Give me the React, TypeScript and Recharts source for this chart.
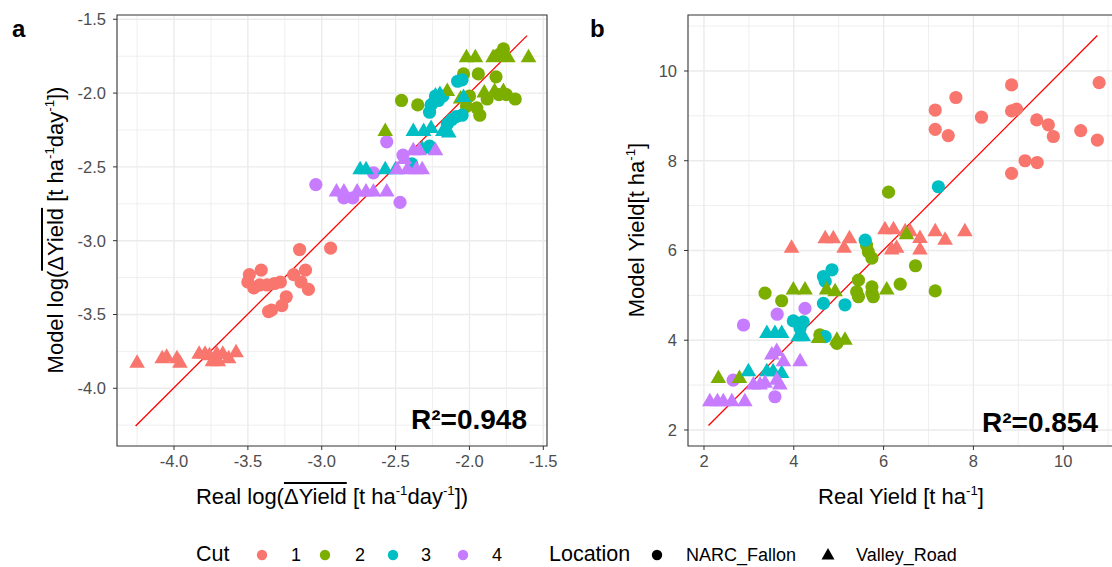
import React from "react";
import { CartesianGrid, Scatter, ScatterChart, XAxis, YAxis, ReferenceArea, ReferenceLine } from "recharts";

type Pt = [number, number];

const CUT_COLORS = ["#F8766D", "#7CAE00", "#00BFC4", "#C77CFF"];
const CUT_LABELS = ["1", "2", "3", "4"];
const FONT = "'Liberation Sans', Arial, sans-serif";

// ---- panel a: log(mean delta yield) ----
const aTicks = [-4.0, -3.5, -3.0, -2.5, -2.0, -1.5];
const aMinor = [-4.25, -3.75, -3.25, -2.75, -2.25, -1.75];

const aCut1Narc: Pt[] = [
  [-3.15, -3.06], [-2.94, -3.05], [-3.41, -3.2], [-3.49, -3.23], [-3.5, -3.28], [-3.46, -3.32],
  [-3.42, -3.3], [-3.37, -3.3], [-3.32, -3.29], [-3.28, -3.28], [-3.19, -3.23], [-3.11, -3.2],
  [-3.14, -3.28], [-3.09, -3.33], [-3.24, -3.38], [-3.27, -3.44], [-3.34, -3.47], [-3.36, -3.48],
];
const aCut1Valley: Pt[] = [
  [-4.25, -3.83], [-4.08, -3.8], [-4.05, -3.79], [-3.98, -3.8], [-3.96, -3.83], [-3.83, -3.77],
  [-3.79, -3.77], [-3.76, -3.78], [-3.74, -3.82], [-3.71, -3.77], [-3.7, -3.82], [-3.67, -3.77],
  [-3.58, -3.76], [-3.63, -3.8],
];
const aCut2Narc: Pt[] = [
  [-1.77, -1.7], [-1.8, -1.74], [-2.04, -1.87], [-1.94, -1.87], [-1.82, -1.89], [-2.46, -2.05],
  [-2.35, -2.08], [-2.0, -2.02], [-1.88, -2.04], [-1.8, -2.01], [-1.75, -2.01], [-1.69, -2.04],
  [-2.02, -2.09], [-1.93, -2.15], [-1.95, -2.1],
];
const aCut2Valley: Pt[] = [
  [-2.02, -1.76], [-1.96, -1.76], [-1.84, -1.76], [-1.79, -1.74], [-1.74, -1.76], [-1.6, -1.76],
  [-2.57, -2.26], [-2.15, -1.99], [-1.9, -2.0], [-1.83, -1.99], [-1.77, -1.99], [-2.06, -2.04],
];
const aCut3Narc: Pt[] = [
  [-2.05, -1.91], [-2.08, -1.92], [-2.26, -2.08], [-2.27, -2.13], [-2.21, -2.05], [-2.18, -2.02],
  [-2.09, -2.16], [-2.05, -2.15], [-2.12, -2.18], [-2.15, -2.21], [-2.27, -2.36], [-2.39, -2.48],
  [-2.23, -2.02],
];
const aCut3Valley: Pt[] = [
  [-2.74, -2.52], [-2.7, -2.52], [-2.57, -2.52], [-2.5, -2.52], [-2.4, -2.51], [-2.38, -2.26],
  [-2.31, -2.26], [-2.26, -2.24], [-2.18, -2.26], [-2.14, -2.27], [-2.23, -2.02], [-2.2, -2.01],
  [-2.04, -2.03], [-2.32, -2.38],
];
const aCut4Narc: Pt[] = [
  [-2.56, -2.33], [-3.04, -2.62], [-2.47, -2.74], [-2.65, -2.54], [-2.45, -2.42], [-2.85, -2.71],
  [-2.79, -2.71],
];
const aCut4Valley: Pt[] = [
  [-2.9, -2.67], [-2.85, -2.67], [-2.76, -2.67], [-2.7, -2.67], [-2.65, -2.67], [-2.56, -2.67],
  [-2.49, -2.52], [-2.42, -2.52], [-2.36, -2.52], [-2.32, -2.52], [-2.38, -2.39], [-2.34, -2.39],
  [-2.23, -2.39], [-2.44, -2.45],
];
const aFit: Pt[] = [[-4.26, -4.255], [-1.61, -1.611]];

// ---- panel b: yield ----
const bTicks = [2, 4, 6, 8, 10];
const bMinor = [3, 5, 7, 9, 11];

const bCut1Narc: Pt[] = [
  [8.85, 9.69], [10.8, 9.74], [7.61, 9.41], [7.15, 9.13], [7.15, 8.7], [7.44, 8.56], [8.18, 8.97],
  [8.85, 9.11], [8.96, 9.15], [9.41, 8.91], [9.67, 8.8], [9.78, 8.54], [10.39, 8.67], [10.76, 8.46],
  [9.15, 8.0], [9.42, 7.96], [8.85, 7.72],
];
const bCut1Valley: Pt[] = [
  [3.95, 6.05], [4.7, 6.26], [4.88, 6.26], [5.24, 6.26], [5.12, 6.05], [6.03, 6.46], [6.22, 6.46],
  [6.29, 6.05], [6.48, 6.42], [6.59, 6.42], [6.81, 6.27], [6.81, 6.01], [7.15, 6.42], [7.37, 6.23],
  [7.81, 6.42], [6.18, 6.01],
];
const bCut2Narc: Pt[] = [
  [6.11, 7.3], [3.36, 5.05], [3.73, 4.88], [4.58, 4.12], [5.44, 5.34], [5.4, 5.08], [5.44, 4.97],
  [5.74, 5.19], [5.74, 5.05], [5.77, 4.97], [6.37, 5.25], [5.62, 6.12], [5.66, 5.97], [5.74, 5.83],
  [6.71, 5.66], [7.15, 5.1], [4.96, 3.93],
];
const bCut2Valley: Pt[] = [
  [2.32, 3.15], [2.79, 3.15], [3.99, 5.12], [4.25, 5.12], [4.55, 4.04], [4.96, 4.0], [5.14, 4.0],
  [4.73, 5.12], [4.92, 5.08], [6.07, 5.12], [6.51, 6.35],
];
const bCut3Narc: Pt[] = [
  [7.22, 7.42], [5.59, 6.23], [4.85, 5.57], [4.66, 5.42], [4.7, 5.31], [4.66, 4.82], [5.14, 4.79],
  [3.99, 4.43], [4.21, 4.41], [4.14, 4.27], [4.7, 4.08],
];
const bCut3Valley: Pt[] = [
  [3.4, 4.15], [3.58, 4.15], [3.73, 4.15], [4.1, 4.08], [4.21, 4.08], [2.99, 3.3], [3.4, 3.3],
  [3.54, 3.3], [3.73, 3.26],
];
const bCut4Narc: Pt[] = [[2.88, 4.34], [3.63, 4.58], [4.25, 4.71], [2.65, 3.11], [3.58, 2.74]];
const bCut4Valley: Pt[] = [
  [2.13, 2.63], [2.43, 2.63], [2.62, 2.63], [2.91, 2.63], [3.1, 3.0], [3.36, 3.04], [3.62, 3.11],
  [3.69, 3.0], [3.51, 3.67], [3.62, 3.75], [3.77, 3.52], [4.14, 3.52], [2.3, 2.63], [3.25, 3.0],
];
const bFit: Pt[] = [[2.1, 2.1], [10.76, 10.79]];

const toRows = (pts: Pt[]) => pts.map(([x, y]) => ({ x, y }));

const circleShape = (color: string) => (p: any) => (
  <circle cx={p.cx} cy={p.cy} r={6.6} fill={color} />
);

const triangleShape = (color: string) => (p: any) => {
  const h = 13.5;
  const w = 15.6;
  const { cx, cy } = p;
  return (
    <polygon
      points={`${cx},${cy - (h * 2) / 3} ${cx - w / 2},${cy + h / 3} ${cx + w / 2},${cy + h / 3}`}
      fill={color}
    />
  );
};

type PanelProps = {
  width: number;
  yAxisWidth: number;
  marginRight: number;
  xDomain: [number, number];
  yDomain: [number, number];
  ticks: number[];
  minor: number[];
  narc: Pt[][];
  valley: Pt[][];
  fit: Pt[];
  fmt: (v: number) => string;
};

function Panel(props: PanelProps) {
  const { width, yAxisWidth, marginRight, xDomain, yDomain, ticks, minor, narc, valley, fit, fmt } = props;
  const tickStyle = { fill: "#4D4D4D", fontSize: 16.5, fontFamily: FONT };
  return (
    <ScatterChart
      width={width}
      height={480}
      margin={{ top: 15, right: marginRight, bottom: 0, left: 0 }}
    >
      <CartesianGrid
        stroke="#EBEBEB"
        strokeWidth={0.8}
        horizontalValues={minor}
        verticalValues={minor}
      />
      <CartesianGrid
        stroke="#EBEBEB"
        strokeWidth={1.4}
        horizontalValues={ticks}
        verticalValues={ticks}
      />
      <XAxis
        type="number"
        dataKey="x"
        domain={xDomain}
        allowDataOverflow
        ticks={ticks}
        interval={0}
        tickFormatter={fmt}
        tick={tickStyle}
        tickSize={4}
        tickMargin={5}
        tickLine={{ stroke: "#333333" }}
        axisLine={false}
        height={34}
      />
      <YAxis
        type="number"
        dataKey="y"
        domain={yDomain}
        allowDataOverflow
        ticks={ticks}
        interval={0}
        tickFormatter={fmt}
        tick={tickStyle}
        tickSize={4}
        tickMargin={7}
        tickLine={{ stroke: "#333333" }}
        axisLine={false}
        width={yAxisWidth}
      />
      {CUT_COLORS.map((c, i) => (
        <Scatter
          key={`n${i}`}
          data={toRows(narc[i])}
          shape={circleShape(c)}
          isAnimationActive={false}
        />
      ))}
      {CUT_COLORS.map((c, i) => (
        <Scatter
          key={`v${i}`}
          data={toRows(valley[i])}
          shape={triangleShape(c)}
          isAnimationActive={false}
        />
      ))}
      <ReferenceLine
        segment={[
          { x: fit[0][0], y: fit[0][1] },
          { x: fit[1][0], y: fit[1][1] },
        ]}
        stroke="#FF0000"
        strokeWidth={1.3}
        ifOverflow="visible"
      />
      <ReferenceArea
        x1={xDomain[0]}
        x2={xDomain[1]}
        y1={yDomain[0]}
        y2={yDomain[1]}
        ifOverflow="visible"
        fill="none"
        fillOpacity={0}
        stroke="#333333"
        strokeWidth={1.1}
      />
    </ScatterChart>
  );
}

const abs = (s: React.CSSProperties): React.CSSProperties => ({ position: "absolute", ...s });
const sup = { fontSize: "0.6em", verticalAlign: "0.7em", lineHeight: 0 };

export default function App() {
  const title: React.CSSProperties = {
    fontFamily: FONT,
    fontSize: 22,
    color: "#000",
    whiteSpace: "nowrap",
    lineHeight: 1,
  };
  const legendText: React.CSSProperties = { fontFamily: FONT, fontSize: 18, color: "#000", lineHeight: 1 };
  const legendTitle: React.CSSProperties = { fontFamily: FONT, fontSize: 21.5, color: "#000", lineHeight: 1 };
  const cutDotX = [262, 325, 393, 463];
  const cutLabelX = [291, 355, 421, 492];
  return (
    <div style={abs({ left: 0, top: 0, width: 1112, height: 567, background: "#fff", overflow: "hidden" })}>
      <div style={abs({ left: 0, top: 0 })}>
        <Panel
          width={560}
          yAxisWidth={117}
          marginRight={13}
          xDomain={[-4.386, -1.475]}
          yDomain={[-4.391, -1.471]}
          ticks={aTicks}
          minor={aMinor}
          narc={[aCut1Narc, aCut2Narc, aCut3Narc, aCut4Narc]}
          valley={[aCut1Valley, aCut2Valley, aCut3Valley, aCut4Valley]}
          fit={aFit}
          fmt={(v) => v.toFixed(1)}
        />
      </div>
      <div style={abs({ left: 580, top: 0 })}>
        <Panel
          width={534}
          yAxisWidth={108}
          marginRight={0}
          xDomain={[1.644, 11.131]}
          yDomain={[1.643, 11.248]}
          ticks={bTicks}
          minor={bMinor}
          narc={[bCut1Narc, bCut2Narc, bCut3Narc, bCut4Narc]}
          valley={[bCut1Valley, bCut2Valley, bCut3Valley, bCut4Valley]}
          fit={bFit}
          fmt={(v) => String(v)}
        />
      </div>

      <div style={abs({ left: 12, top: 17, fontFamily: FONT, fontWeight: 700, fontSize: 24, lineHeight: 1 })}>a</div>
      <div style={abs({ left: 590, top: 17, fontFamily: FONT, fontWeight: 700, fontSize: 24, lineHeight: 1 })}>b</div>

      <div style={abs({ right: 585, top: 406, fontFamily: FONT, fontWeight: 700, fontSize: 28, lineHeight: 1 })}>
        R²=0.948
      </div>
      <div style={abs({ right: 14, top: 409, fontFamily: FONT, fontWeight: 700, fontSize: 28, lineHeight: 1 })}>
        R²=0.854
      </div>

      <div style={abs({ ...title, left: 332, top: 497, transform: "translate(-50%, -50%)" })}>
        Real log(<span style={{ textDecoration: "overline" }}>ΔYield</span> [t ha<span style={sup}>-1</span>day
        <span style={sup}>-1</span>])
      </div>
      <div style={abs({ ...title, left: 56, top: 230, transform: "translate(-50%, -50%) rotate(-90deg)" })}>
        Model log(<span style={{ textDecoration: "overline" }}>ΔYield</span> [t ha<span style={sup}>-1</span>day
        <span style={sup}>-1</span>])
      </div>
      <div style={abs({ ...title, left: 901, top: 497, transform: "translate(-50%, -50%)" })}>
        Real Yield [t ha<span style={sup}>-1</span>]
      </div>
      <div style={abs({ ...title, left: 637, top: 230, transform: "translate(-50%, -50%) rotate(-90deg)" })}>
        Model Yield[t ha<span style={sup}>-1</span>]
      </div>

      <div style={abs({ ...legendTitle, left: 196, top: 544 })}>Cut</div>
      {CUT_COLORS.map((c, i) => (
        <React.Fragment key={c}>
          <svg style={abs({ left: cutDotX[i] - 6, top: 549 })} width={12} height={12}>
            <circle cx={6} cy={6} r={5.2} fill={c} />
          </svg>
          <div style={abs({ ...legendText, left: cutLabelX[i], top: 546 })}>{CUT_LABELS[i]}</div>
        </React.Fragment>
      ))}
      <div style={abs({ ...legendTitle, left: 549, top: 544 })}>Location</div>
      <svg style={abs({ left: 651, top: 549 })} width={12} height={12}>
        <circle cx={6} cy={6} r={5.2} fill="#000" />
      </svg>
      <div style={abs({ ...legendText, left: 686, top: 546 })}>NARC_Fallon</div>
      <svg style={abs({ left: 821, top: 547 })} width={14} height={14}>
        <polygon points="7,1 0.5,12.5 13.5,12.5" fill="#000" />
      </svg>
      <div style={abs({ ...legendText, left: 856, top: 546 })}>Valley_Road</div>
    </div>
  );
}
